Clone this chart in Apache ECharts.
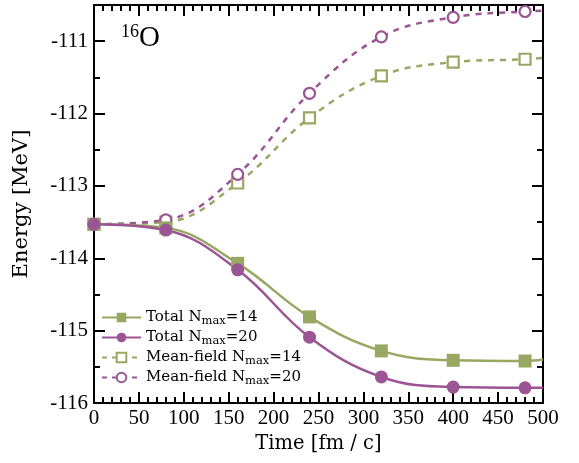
<!doctype html>
<html lang="en">
  <head>
    <meta charset="UTF-8" />
    <title>16O energy vs time</title>
    <script src="https://fastly.jsdelivr.net/npm/echarts@6/dist/echarts.min.js"></script>
    <style type="text/css">
      * {
        margin: 0;
        padding: 0;
      }
      html,
      body,
      #chart {
        width: 579px;
        height: 463px;
        overflow: hidden;
        background: #fff;
      }
    </style>
  </head>
  <body>
    <div id="chart"></div>
  </body>
  <script>
    // time points (fm/c); markers at every point except the last one
    const times = [0, 80, 160, 240, 320, 400, 480, 500];
    const totalN14 = [-113.53, -113.58, -114.07, -114.81, -115.28, -115.41, -115.42, -115.4];
    const totalN20 = [-113.53, -113.61, -114.16, -115.09, -115.64, -115.78, -115.79, -115.79];
    const meanN14 = [-113.53, -113.5, -112.96, -112.06, -111.48, -111.29, -111.25, -111.23];
    const meanN20 = [-113.53, -113.47, -112.84, -111.72, -110.94, -110.67, -110.59, -110.58];

    const green = '#98a862';
    const purple = '#9b5594';
    const font = 'Liberation Serif';
    const font2 = 'DejaVu Serif';

    function toData(vals) {
      return vals.map(function (v, i) {
        const item = { value: [times[i], v] };
        if (i === times.length - 1) item.symbolSize = 0;
        return item;
      });
    }

    function makeSeries(name, vals, color, symbol, dashed) {
      return {
        name: name,
        type: 'line',
        data: toData(vals),
        smooth: 0.4,
        symbol: symbol,
        symbolSize: dashed ? 11 : 13,
        lineStyle: { color: color, width: 2.5, type: dashed ? [6, 6] : 'solid' },
        itemStyle: dashed
          ? { color: '#fff', borderColor: color, borderWidth: 2.2 }
          : { color: color, borderWidth: 0 },
        z: dashed ? 2 : 3,
      };
    }

    // one axis of the frame: major or minor ticks only
    function frameAxis(pos, min, max, step, len, extra) {
      return Object.assign(
        {
          type: 'value',
          position: pos,
          min: min,
          max: max,
          interval: step,
          axisLine: { show: true, onZero: false, lineStyle: { color: '#000', width: 2 } },
          axisTick: { show: true, inside: true, length: len, lineStyle: { color: '#000', width: 2 } },
          axisLabel: { show: false },
          splitLine: { show: false },
        },
        extra || {}
      );
    }

    const sub = { fontSize: 11.5, fontFamily: font2, color: '#000', padding: [8, 0, 0, 0] };
    const txt = { fontSize: 15, fontFamily: font2, color: '#000' };

    const option = {
      animation: false,
      backgroundColor: '#fff',
      grid: { left: 94, right: 36, top: 5, bottom: 60 },
      title: {
        left: 116,
        top: 18,
        text: '{sup|16}{o|O}',
        textStyle: {
          rich: {
            sup: { fontSize: 18, fontFamily: font, fontWeight: 'normal', color: '#000', padding: [0, 0, 12, 0] },
            o: { fontSize: 29, fontFamily: font, fontWeight: 'normal', color: '#000' },
          },
        },
      },
      legend: {
        orient: 'vertical',
        left: 96,
        top: 305,
        itemGap: 2.5,
        itemWidth: 39,
        itemHeight: 12,
        data: [
          { name: 't14' },
          { name: 't20' },
          { name: 'm14', lineStyle: { type: [5, 5] } },
          { name: 'm20', lineStyle: { type: [5, 5] } },
        ],
        formatter: function (n) {
          const map = {
            t14: '{a|Total N}{s|max}{a|=14}',
            t20: '{a|Total N}{s|max}{a|=20}',
            m14: '{a|Mean-field N}{s|max}{a|=14}',
            m20: '{a|Mean-field N}{s|max}{a|=20}',
          };
          return map[n];
        },
        textStyle: { rich: { a: txt, s: sub } },
      },
      xAxis: [
        frameAxis('bottom', 0, 500, 50, 11, {
          name: 'Time [fm / c]',
          nameLocation: 'middle',
          nameGap: 30,
          nameTextStyle: { fontSize: 19.5, fontFamily: font2, color: '#000' },
          axisLabel: { show: true, fontSize: 21, fontFamily: font, color: '#000', margin: 5 },
        }),
        frameAxis('bottom', 0, 500, 10, 6),
        frameAxis('top', 0, 500, 50, 11),
        frameAxis('top', 0, 500, 10, 6),
      ],
      yAxis: [
        frameAxis('left', -116, -110.5, 1, 11, {
          name: 'Energy [MeV]',
          nameLocation: 'middle',
          nameGap: 62,
          nameTextStyle: { fontSize: 21, fontFamily: font2, color: '#000' },
          axisLabel: {
            show: true,
            fontSize: 21,
            fontFamily: font,
            color: '#000',
            margin: 6,
            formatter: function (v) {
              return v === -110.5 ? '' : v;
            },
          },
        }),
        frameAxis('left', -116, -110.5, 0.5, 6),
        frameAxis('right', -116, -110.5, 1, 11),
        frameAxis('right', -116, -110.5, 0.5, 6),
      ],
      series: [
        makeSeries('t14', totalN14, green, 'rect', false),
        makeSeries('t20', totalN20, purple, 'circle', false),
        makeSeries('m14', meanN14, green, 'rect', true),
        makeSeries('m20', meanN20, purple, 'circle', true),
      ],
    };

    const chart = echarts.init(document.getElementById('chart'));
    chart.setOption(option);
  </script>
</html>
